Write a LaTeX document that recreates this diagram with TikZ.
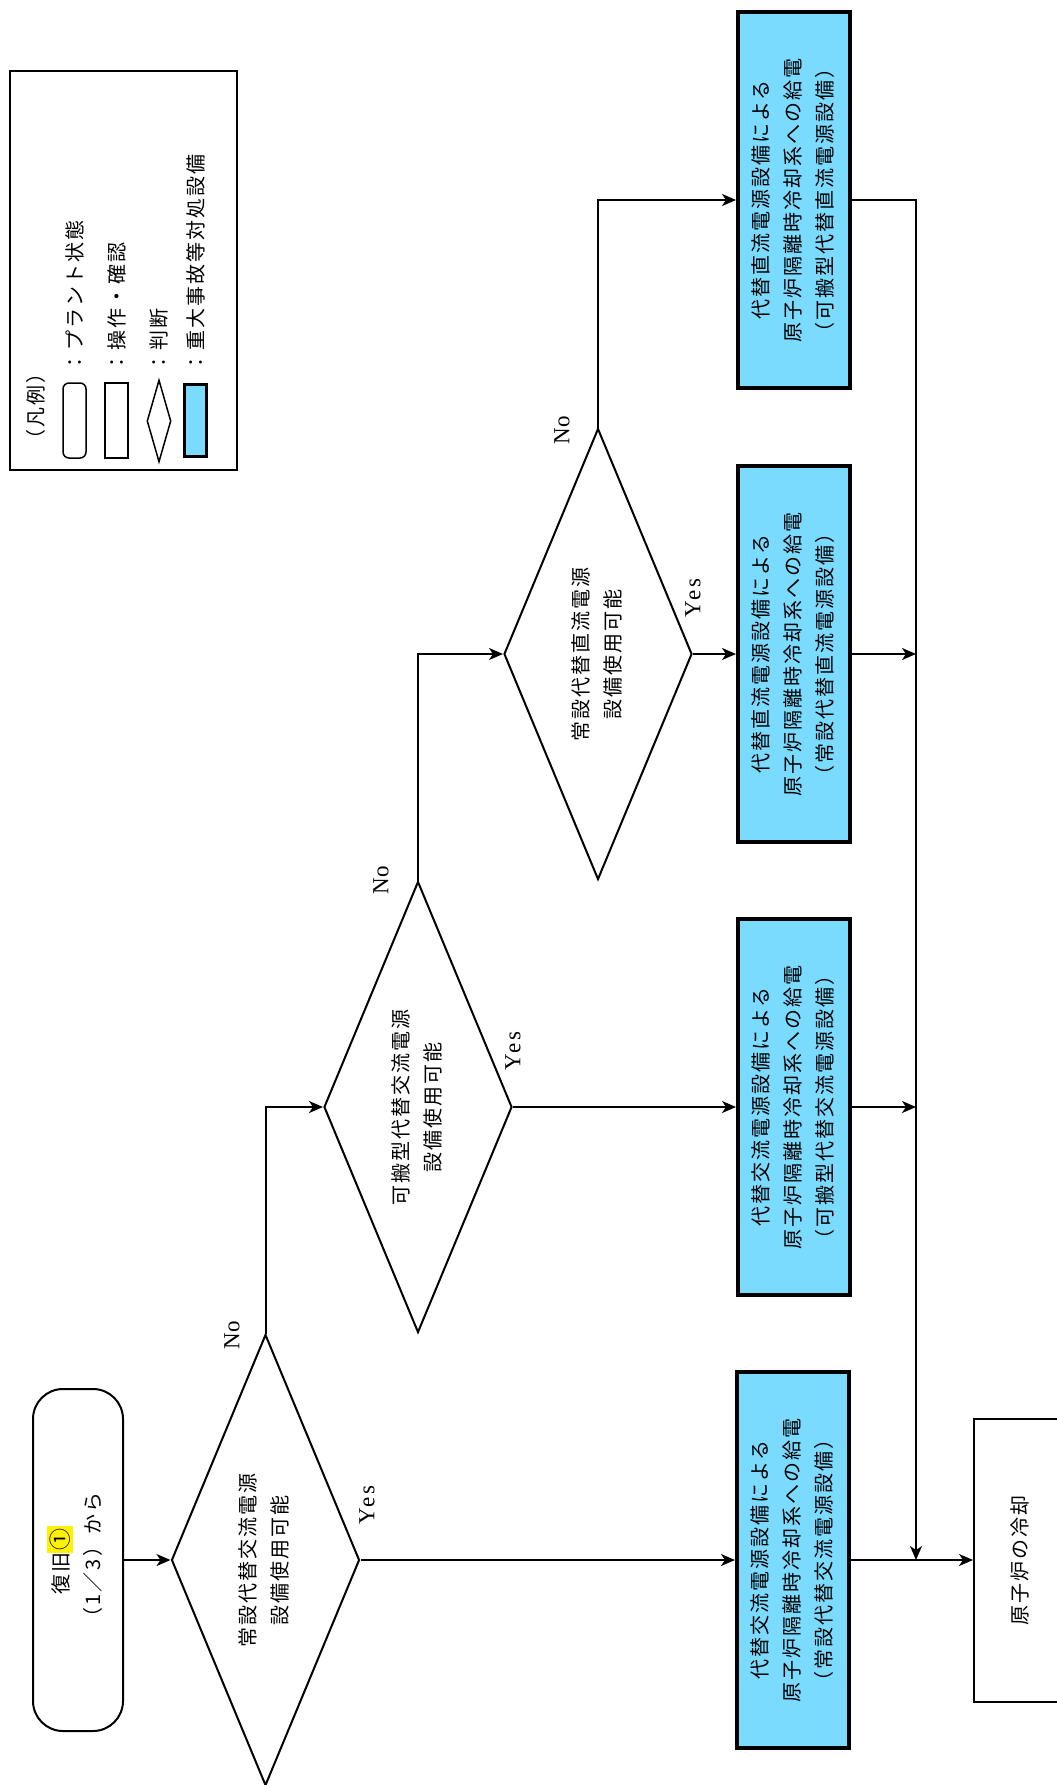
\documentclass[tikz,border=0pt]{standalone}
\usepackage{fontspec}
\usepackage{graphicx}
\usetikzlibrary{shapes.geometric,arrows.meta}
\setmainfont{Liberation Serif}
\newfontfamily\jp[LetterSpace=10]{Noto Sans CJK JP}
\newfontfamily\yesfont[LetterSpace=10]{Liberation Serif}
\definecolor{sacol}{RGB}{122,219,255}
\newcommand\vtxt[1]{\rotatebox{90}{\jp\fontsize{20}{32}\selectfont\begin{tabular}{@{}c@{}}#1\end{tabular}}}
\newcommand\vtxl[1]{\rotatebox{90}{\jp\fontsize{20}{32}\selectfont #1}}
\newcommand\vlat[1]{\rotatebox{90}{\fontsize{23}{28}\selectfont #1}}
\newcommand\vyes[1]{\rotatebox{90}{\yesfont\fontsize{23}{28}\selectfont #1}}
\begin{document}
\begin{tikzpicture}[x=1pt,y=-1pt,line width=2pt,
  arr/.style={-{Stealth[length=14pt,width=12pt,inset=4pt]}},
  plant/.style={draw,rounded corners=30pt,minimum width=90pt,minimum height=342pt,inner sep=0pt},
  judge/.style={draw,diamond,shape aspect=0.42,minimum width=188pt,minimum height=451pt,inner sep=0pt},
  satbox/.style={draw,line width=4pt,fill=sacol,minimum width=112pt,minimum height=376pt,inner sep=0pt},
  opbox/.style={draw,minimum width=94pt,minimum height=283pt,inner sep=0pt},
  lbl/.style={inner sep=0pt}]
\useasboundingbox (0,0) rectangle (1057,1785);

% legend
\node[draw,line width=1.5pt,minimum width=227pt,minimum height=399pt,inner sep=0pt] (legend) at (123.5,270.5) {};
\node[lbl] (lt0) at (36,406) {\vtxl{（凡例）}};
\node[draw,line width=1.5pt,rounded corners=6pt,minimum width=23pt,minimum height=75pt,inner sep=0pt] (lg1) at (74.5,420.5) {};
\node[draw,line width=1.5pt,minimum width=23pt,minimum height=75pt,inner sep=0pt] (lg2) at (116.5,420.5) {};
\node[draw,line width=1.5pt,diamond,shape aspect=0.29,minimum width=24pt,minimum height=82pt,inner sep=0pt] (lg3) at (159,421) {};
\node[draw,line width=3pt,fill=sacol,minimum width=22pt,minimum height=72pt,inner sep=0pt] (lg4) at (195.5,420.5) {};
\node[lbl,anchor=south] (lt1) at (75,373) {\vtxl{：プラント状態}};
\node[lbl,anchor=south] (lt2) at (117,373) {\vtxl{：操作・確認}};
\node[lbl,anchor=south] (lt3) at (159,373) {\vtxl{：判断}};
\node[lbl,anchor=south] (lt4) at (196,373) {\vtxl{：重大事故等対処設備}};

% flow
\node[plant] (start) at (78,1560) {\vtxt{復旧{\setlength{\fboxsep}{2.5pt}\colorbox{yellow}{\fontsize{22}{22}\selectfont ①}}\\（1／3）から}};
\node[judge] (d1) at (265.5,1560) {\vtxt{常設代替交流電源\\設備使用可能}};
\node[judge] (d2) at (418,1107) {\vtxt{可搬型代替交流電源\\設備使用可能}};
\node[judge] (d3) at (598,654) {\vtxt{常設代替直流電源\\設備使用可能}};

\node[satbox] (acp) at (793,1560) {\vtxt{代替交流電源設備による\\原子炉隔離時冷却系への給電\\（常設代替交流電源設備）}};
\node[satbox] (acm) at (794,1107) {\vtxt{代替交流電源設備による\\原子炉隔離時冷却系への給電\\（可搬型代替交流電源設備）}};
\node[satbox] (dcp) at (794,654) {\vtxt{代替直流電源設備による\\原子炉隔離時冷却系への給電\\（常設代替直流電源設備）}};
\node[satbox] (dcm) at (794,200) {\vtxt{代替直流電源設備による\\原子炉隔離時冷却系への給電\\（可搬型代替直流電源設備）}};

\node[opbox] (fin) at (1021,1560) {\vtxt{原子炉の冷却}};

% labels
\node[lbl] (n1) at (232,1335) {\vlat{No}};
\node[lbl] (y1) at (367,1505) {\vyes{Yes}};
\node[lbl] (n2) at (381,880) {\vlat{No}};
\node[lbl] (y2) at (513,1051) {\vyes{Yes}};
\node[lbl] (n3) at (562,430) {\vlat{No}};
\node[lbl] (y3) at (693,598) {\vyes{Yes}};

% connectors
\coordinate (jn) at (916,1560);
\draw[arr] (start.east) -- (d1.west);
\draw[arr] (d1.east) -- (acp.west);
\draw[arr] (d1.north) |- (d2.west);
\draw[arr] (d2.east) -- (acm.west);
\draw[arr] (d2.north) |- (d3.west);
\draw[arr] (d3.east) -- (dcp.west);
\draw[arr] (d3.north) |- (dcm.west);
\draw[arr] (acp.east) -- (fin.west);
\draw[arr,line width=1.6pt] (dcm.east) -| (jn);
\draw[arr] (dcp.east) -- (dcp.east -| jn);
\draw[arr] (acm.east) -- (acm.east -| jn);
\end{tikzpicture}
\end{document}
